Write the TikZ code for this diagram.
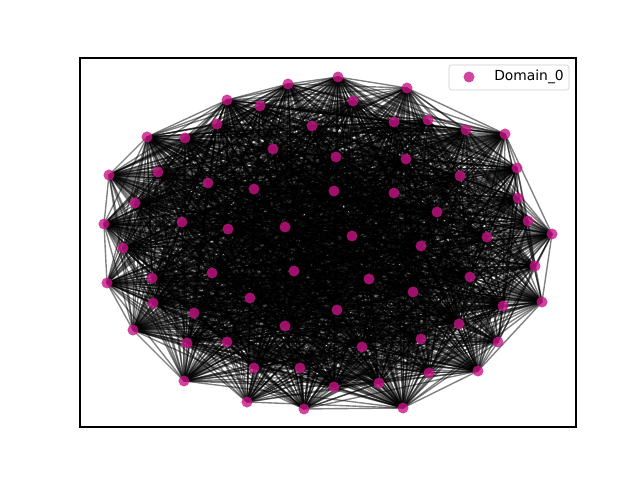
\documentclass[tikz,border=0pt]{standalone}
\usepackage{fontspec}
\setmainfont{DejaVu Sans}
\usetikzlibrary{backgrounds}
\definecolor{domcol}{HTML}{C71585}
\definecolor{legframe}{HTML}{CCCCCC}

\begin{document}
\begin{tikzpicture}[
    % Pixel grid, y running downwards
    x=0.01in,y=-0.01in,
    % Node look
    domnode/.style={circle,fill=domcol,fill opacity=0.8,inner sep=0pt,minimum size=0.11in},
    % Edge stroke
    domedge/.style={black,opacity=0.5,line width=1pt}
    ]
  \useasboundingbox (0,0) rectangle (640,480);

  \foreach \x/\y [count=\k] in {338/77,407/88,288/84,227/100,260/106,353/101,428/120,394/122,
      466/130,505/134,217/124,312/126,147/137,185/138,273/149,336/157,406/159,158/172,
      109/175,460/176,517/168,208/183,254/189,334/191,394/193,518/198,135/203,437/212,
      528/221,104/224,182/222,228/229,285/227,552/234,352/236,487/237,123/248,421/246,
      535/266,212/273,294/271,152/278,369/279,470/277,107/283,250/298,413/292,542/302,
      153/303,503/306,194/313,337/310,459/324,285/326,133/330,421/339,227/342,187/343,
      498/342,362/347,254/368,300/368,429/373,478/371,184/381,334/387,379/383,247/402,
      304/409,403/408}
    \node[domnode] (n\k) at (\x,\y) {};

  % edges behind the nodes
  \begin{pgfonlayer}{background}
    \foreach \i in {1,...,69}{
      \pgfmathtruncatemacro{\first}{\i+1}
      \foreach \j in {\first,...,70}{
        \pgfmathtruncatemacro{\pick}{mod(7*mod(\i*\i,17)+13*mod(\j*\j,17)+5*mod(\i*\j,17)+3,17)}
        \ifnum\pick<13 \draw[domedge] (n\i.center) -- (n\j.center);\fi
      }
    }
  \end{pgfonlayer}

  % axes frame
  \draw[line width=0.8pt] (80,58) rectangle (576,427);

  % legend
  \draw[legframe,fill=white,fill opacity=0.8,rounded corners=2pt] (449,65) rectangle (569,90);
  \node[domnode] (leg) at (469,77) {};
  \node[anchor=west,inner sep=0pt,font=\fontsize{10}{12}\selectfont] (legtext) at (494,77) {Domain\_0};
\end{tikzpicture}
\end{document}
